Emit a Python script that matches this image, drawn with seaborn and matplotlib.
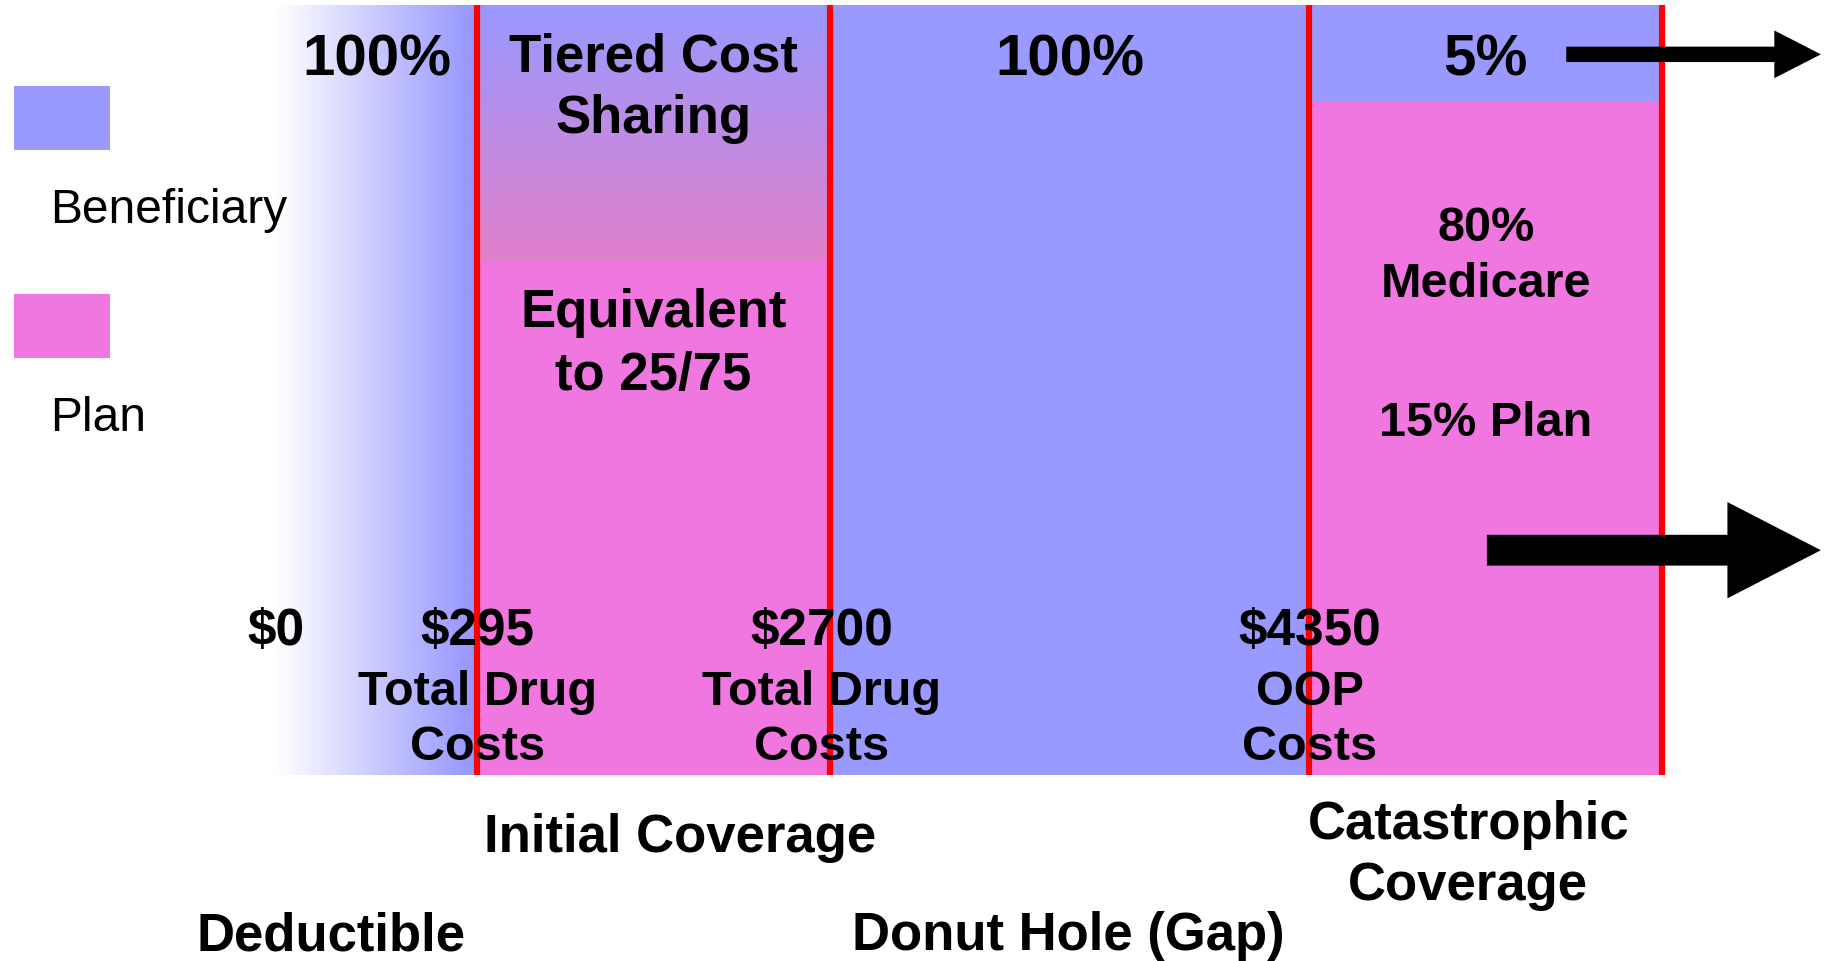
import numpy as np
import pandas as pd
import matplotlib
matplotlib.use('Agg')
import matplotlib.pyplot as plt
from matplotlib.colors import to_rgb
from matplotlib.patches import Rectangle, FancyArrow
import seaborn as sns

# ─── Data ────────────────────────────────────────────────────────────────────
phases             = ['Deductible', 'Initial Coverage', 'Donut Hole (Gap)',
                      'Catastrophic\nCoverage']
thresholds         = ['$0', '$295', '$2700', '$4350']
threshold_notes    = ['', 'Total Drug\nCosts', 'Total Drug\nCosts', 'OOP\nCosts']
beneficiary_labels = ['100%', 'Tiered Cost\nSharing', '100%', '5%']
plan_labels        = ['', 'Equivalent\nto 25/75', '', '80%\nMedicare']
plan_sub_labels    = ['', '', '', '15% Plan']
plan_band          = [0, 66.6, 0, 87.4]     # % of bar height painted as Plan
total_band         = [100, 100, 100, 100]

# ─── Style ───────────────────────────────────────────────────────────────────
BLUE  = '#9999FF'
PINK  = '#F077DF'
MAUVE = '#E280CA'   # bottom end of the tiered-cost-sharing blend
RED   = '#FF0000'

sns.set_theme(style='white')
plt.rcParams['font.family'] = ['Liberation Sans', 'DejaVu Sans']

seg_widths = [0.57, 1.0, 1.36, 1.0]          # schematic, not to scale
edges   = np.concatenate([[0], np.cumsum(seg_widths)])
centers = (edges[:-1] + edges[1:]) / 2

df = pd.DataFrame({'pos': centers, 'total': total_band, 'plan': plan_band})

fig = plt.figure(figsize=(18.32, 9.62), dpi=100, facecolor='white')
ax  = fig.add_axes([0.1507, 0.1933, 0.7566, 0.8004])

# base bars: beneficiary everywhere, plan band painted from the bottom
sns.histplot(data=df, x='pos', weights='total', bins=list(edges), color=BLUE,
             alpha=1, linewidth=0, ax=ax, zorder=1)
sns.histplot(data=df, x='pos', weights='plan', bins=list(edges), color=PINK,
             alpha=1, linewidth=0, ax=ax, zorder=1)

blue  = np.array(to_rgb(BLUE))
mauve = np.array(to_rgb(MAUVE))
white = np.ones(3)

# deductible: white -> blue, left to right
t = np.clip(np.linspace(0, 1, 256) / 0.95, 0, 1)[:, None]
row = (1 - t) * white + t * blue
ax.imshow(row[None, :, :], extent=[edges[0], edges[1], 0, 100],
          aspect='auto', interpolation='bilinear', zorder=2)

# initial coverage: blue -> mauve, top to bottom (tiered cost sharing)
s = np.linspace(0, 1, 256)[:, None]
col = (1 - s) * blue + s * mauve
ax.imshow(col[:, None, :], extent=[edges[1], edges[2], plan_band[1], 100],
          origin='upper', aspect='auto', interpolation='bilinear', zorder=2)

# thresholds
ax.vlines(edges[1:], 0, 100, color=RED, lw=4.5, zorder=4, clip_on=False)

ax.set_xlim(edges[0], edges[-1])
ax.set_ylim(0, 100)
ax.set_axis_off()

bold = dict(fontweight='bold', color='black', ha='center', va='center', zorder=5)

# top labels (beneficiary share)
for i, lab in enumerate(beneficiary_labels):
    if '\n' in lab:
        ax.text(centers[i], 89.3, lab, fontsize=38, linespacing=1.29, **bold)
    else:
        ax.text(centers[i], 92.9, lab, fontsize=42, **bold)

# plan labels
ax.text(centers[1], 56.0, plan_labels[1], fontsize=38, linespacing=1.33, **bold)
ax.text(centers[3], 67.5, plan_labels[3], fontsize=35, linespacing=1.33, **bold)
ax.text(centers[3], 45.8, plan_sub_labels[3], fontsize=35, **bold)

# threshold labels along the bottom of the bars
threshold_dx = [0.0, 0.0, -0.023, 0.0]
for i, (lab, note) in enumerate(zip(thresholds, threshold_notes)):
    x = edges[i] + threshold_dx[i]
    ax.text(x, 18.8, lab, fontsize=37, **bold)
    if note:
        ax.text(x, 7.3, note, fontsize=35, linespacing=1.29, **bold)

# phase names below the chart
phase_x = [0.155, 1.145, 2.245, 3.38]
phase_y = [-20.8, -8.05, -20.8, -10.3]
for x, y, lab in zip(phase_x, phase_y, phases):
    ax.text(x, y, lab, fontsize=38, linespacing=1.29, clip_on=False, **bold)

# arrows to the right
ax.add_patch(FancyArrow(3.658, 93.6, 0.722, 0, width=2.0, head_width=6.2,
                        head_length=0.132, length_includes_head=True,
                        color='black', lw=0, clip_on=False, zorder=6))
ax.add_patch(FancyArrow(3.433, 29.2, 0.947, 0, width=4.0, head_width=12.5,
                        head_length=0.265, length_includes_head=True,
                        color='black', lw=0, clip_on=False, zorder=6))

# legend (swatch above its label)
fig.add_artist(Rectangle((0.0076, 0.843), 0.0524, 0.0665,
                         transform=fig.transFigure, color=BLUE, lw=0))
fig.add_artist(Rectangle((0.0076, 0.6268), 0.0524, 0.0665,
                         transform=fig.transFigure, color=PINK, lw=0))
fig.text(0.0273, 0.768, 'Beneficiary', fontsize=34.5, color='black',
         va='baseline', ha='left')
fig.text(0.0273, 0.552, 'Plan', fontsize=34.5, color='black',
         va='baseline', ha='left')

fig.savefig('out.png', dpi=100, facecolor='white')
